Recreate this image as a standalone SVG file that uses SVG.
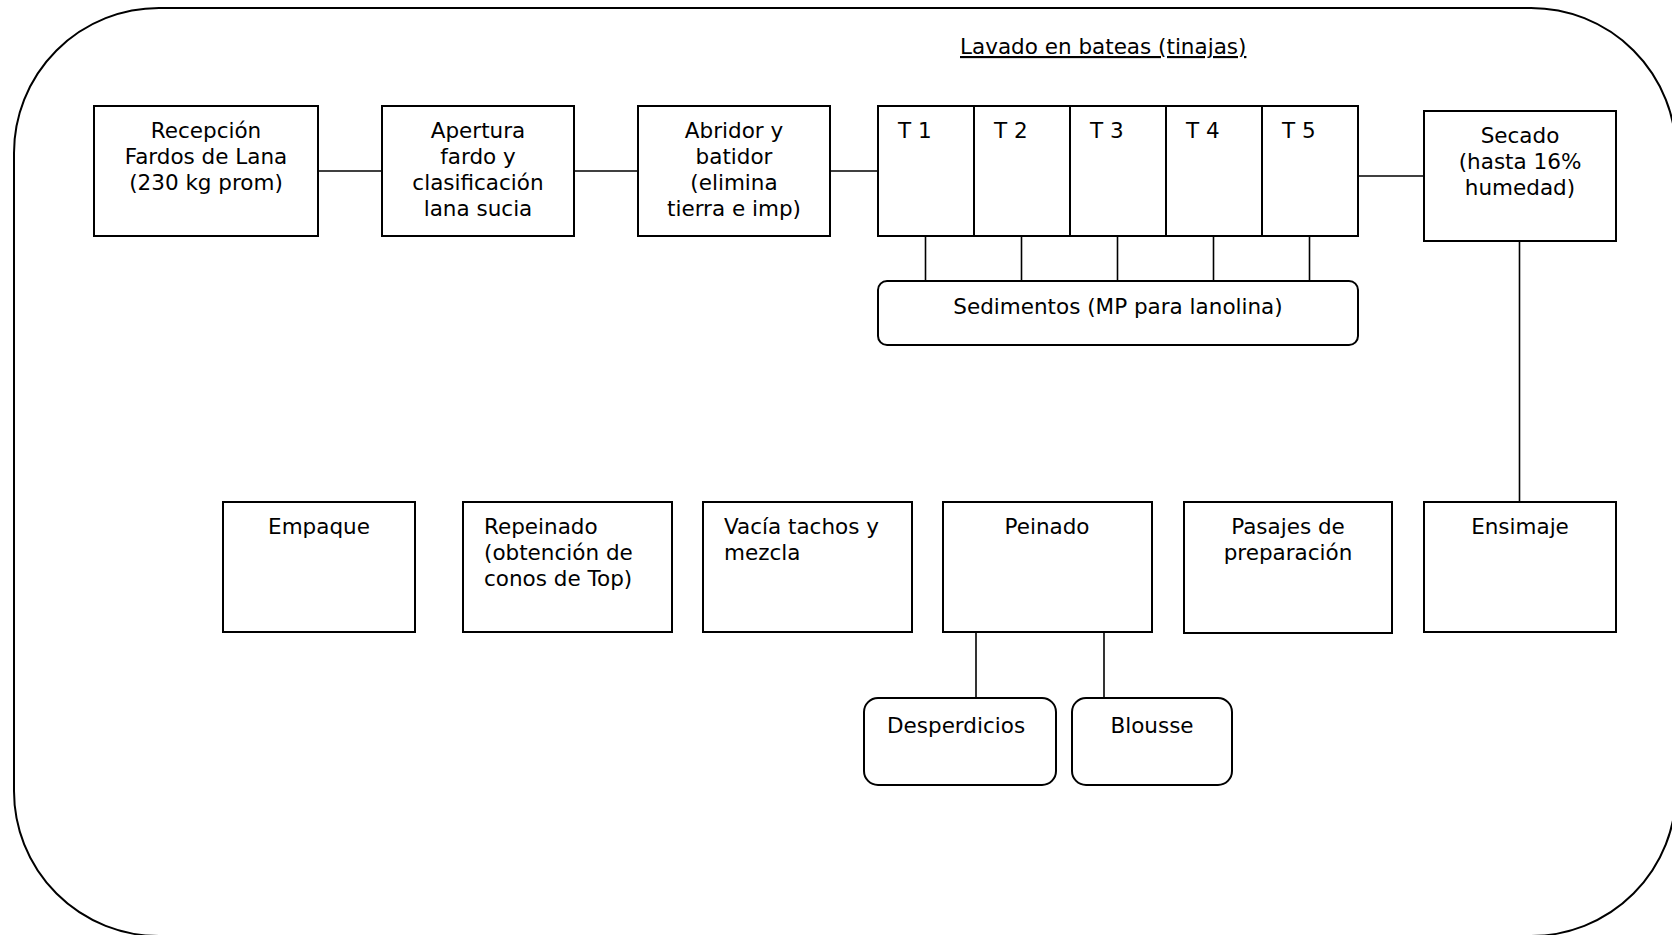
<svg xmlns="http://www.w3.org/2000/svg" width="1672" height="935" viewBox="0 0 1672 935">
  <style>
    .box { fill: #fff; stroke: #000; stroke-width: 2; }
    .rbox { fill: #fff; stroke: #000; stroke-width: 2; }
    .frame { fill: none; stroke: #000; stroke-width: 2; }
    .link { stroke: #000; stroke-width: 1.6; fill: none; }
    text { font-family: "DejaVu Sans", Verdana, sans-serif; font-size: 21.5px; fill: #000; }
    .c { text-anchor: middle; }
    .title { text-decoration: underline; }
  </style>

  <!-- outer rounded frame -->
  <rect class="frame" x="14" y="8" width="1662" height="928" rx="145" ry="145"/>

  <text class="title" x="960" y="54">Lavado en bateas (tinajas)</text>

  <!-- connectors -->
  <g id="connectors">
    <line class="link" x1="318" y1="171" x2="382" y2="171"/>
    <line class="link" x1="574" y1="171" x2="638" y2="171"/>
    <line class="link" x1="830" y1="171" x2="878" y2="171"/>
    <line class="link" x1="1357" y1="176" x2="1424" y2="176"/>
    <line class="link" x1="925.5" y1="236" x2="925.5" y2="281"/>
    <line class="link" x1="1021.5" y1="236" x2="1021.5" y2="281"/>
    <line class="link" x1="1117.5" y1="236" x2="1117.5" y2="281"/>
    <line class="link" x1="1213.5" y1="236" x2="1213.5" y2="281"/>
    <line class="link" x1="1309.5" y1="236" x2="1309.5" y2="281"/>
    <line class="link" x1="1519.5" y1="241" x2="1519.5" y2="502"/>
    <line class="link" x1="976" y1="632" x2="976" y2="698"/>
    <line class="link" x1="1104" y1="632" x2="1104" y2="698"/>
  </g>

  <g id="recepcion">
    <rect class="box" x="94" y="106" width="224" height="130"/>
    <text class="c" x="206" y="138">Recepción</text>
    <text class="c" x="206" y="164">Fardos de Lana</text>
    <text class="c" x="206" y="190">(230 kg prom)</text>
  </g>

  <g id="apertura">
    <rect class="box" x="382" y="106" width="192" height="130"/>
    <text class="c" x="478" y="138">Apertura</text>
    <text class="c" x="478" y="164">fardo y</text>
    <text class="c" x="478" y="190">clasificación</text>
    <text class="c" x="478" y="216">lana sucia</text>
  </g>

  <g id="abridor">
    <rect class="box" x="638" y="106" width="192" height="130"/>
    <text class="c" x="734" y="138">Abridor y</text>
    <text class="c" x="734" y="164">batidor</text>
    <text class="c" x="734" y="190">(elimina</text>
    <text class="c" x="734" y="216">tierra e imp)</text>
  </g>

  <g id="tinajas">
    <rect class="box" x="878" y="106" width="96" height="130"/>
    <rect class="box" x="974" y="106" width="96" height="130"/>
    <rect class="box" x="1070" y="106" width="96" height="130"/>
    <rect class="box" x="1166" y="106" width="96" height="130"/>
    <rect class="box" x="1262" y="106" width="96" height="130"/>
    <text x="898" y="138">T 1</text>
    <text x="994" y="138">T 2</text>
    <text x="1090" y="138">T 3</text>
    <text x="1186" y="138">T 4</text>
    <text x="1282" y="138">T 5</text>
  </g>

  <g id="sedimentos">
    <rect class="rbox" x="878" y="281" width="480" height="64" rx="9" ry="9"/>
    <text class="c" x="1118" y="314">Sedimentos (MP para lanolina)</text>
  </g>

  <g id="secado">
    <rect class="box" x="1424" y="111" width="192" height="130"/>
    <text class="c" x="1520" y="143">Secado</text>
    <text class="c" x="1520" y="169">(hasta 16%</text>
    <text class="c" x="1520" y="195">humedad)</text>
  </g>

  <g id="empaque">
    <rect class="box" x="223" y="502" width="192" height="130"/>
    <text class="c" x="319" y="534">Empaque</text>
  </g>

  <g id="repeinado">
    <rect class="box" x="463" y="502" width="209" height="130"/>
    <text x="484" y="534">Repeinado</text>
    <text x="484" y="560">(obtención de</text>
    <text x="484" y="586">conos de Top)</text>
  </g>

  <g id="vacia">
    <rect class="box" x="703" y="502" width="209" height="130"/>
    <text x="724" y="534">Vacía tachos y</text>
    <text x="724" y="560">mezcla</text>
  </g>

  <g id="peinado">
    <rect class="box" x="943" y="502" width="209" height="130"/>
    <text class="c" x="1047" y="534">Peinado</text>
  </g>

  <g id="pasajes">
    <rect class="box" x="1184" y="502" width="208" height="131"/>
    <text class="c" x="1288" y="534">Pasajes de</text>
    <text class="c" x="1288" y="560">preparación</text>
  </g>

  <g id="ensimaje">
    <rect class="box" x="1424" y="502" width="192" height="130"/>
    <text class="c" x="1520" y="534">Ensimaje</text>
  </g>

  <g id="desperdicios">
    <rect class="rbox" x="864" y="698" width="192" height="87" rx="14" ry="14"/>
    <text x="887" y="733">Desperdicios</text>
  </g>

  <g id="blousse">
    <rect class="rbox" x="1072" y="698" width="160" height="87" rx="14" ry="14"/>
    <text class="c" x="1152" y="733">Blousse</text>
  </g>
</svg>
